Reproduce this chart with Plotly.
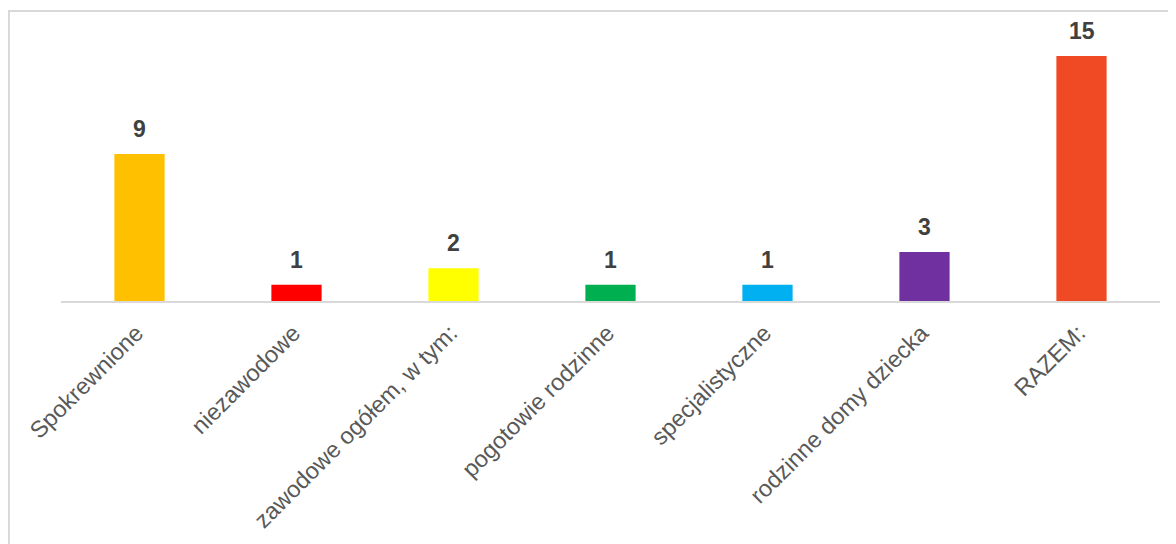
import plotly.graph_objects as go

# ── Data ───────────────────────────────────────────────────────────────────────
categories = [
    "Spokrewnione",
    "niezawodowe",
    "zawodowe ogółem, w tym:",
    "pogotowie rodzinne",
    "specjalistyczne",
    "rodzinne domy dziecka",
    "RAZEM:",
]
values = [9, 1, 2, 1, 1, 3, 15]

# ── Style ──────────────────────────────────────────────────────────────────────
BAR_COLORS = ["#FFC000", "#FF0000", "#FFFF00", "#00B050", "#00B0F0", "#7030A0", "#F04A24"]
FONT = "Liberation Sans, Arial, sans-serif"
GRID = "#D9D9D9"

fig = go.Figure()

fig.add_trace(go.Bar(
    x=categories, y=values,
    marker=dict(color=BAR_COLORS, line=dict(width=0)),
    width=0.32,
    hoverinfo="x+y",
))

# value labels above bars
for cat, val in zip(categories, values):
    fig.add_annotation(
        x=cat, y=val,
        text=f"<b>{val}</b>",
        showarrow=False,
        yanchor="bottom",
        yshift=10,
        font=dict(family=FONT, size=23, color="#404040"),
    )

# outer chart border (page body has an 8px margin, so the figure is offset)
fig.add_shape(
    type="rect", xref="paper", yref="paper",
    x0=-0.0473, x1=1.05, y0=-0.95, y1=1.032,
    line=dict(color=GRID, width=2),
    layer="below",
)

fig.update_layout(
    width=1176, height=544,
    margin=dict(l=53, r=24, t=12, b=251),
    paper_bgcolor="#ffffff",
    plot_bgcolor="#ffffff",
    showlegend=False,
    font=dict(family=FONT, color="#595959"),
)

fig.update_xaxes(
    tickangle=-45,
    tickfont=dict(family=FONT, size=23.5, color="#595959"),
    showline=True, linecolor=GRID, linewidth=2,
    showgrid=False, ticks="",
    ticklabelstandoff=7, ticklabelshift=-3,
    automargin=False,
)
fig.update_yaxes(
    range=[0, 17.2],
    visible=False,
    showgrid=False, zeroline=False,
)

fig.write_html("out.html")
